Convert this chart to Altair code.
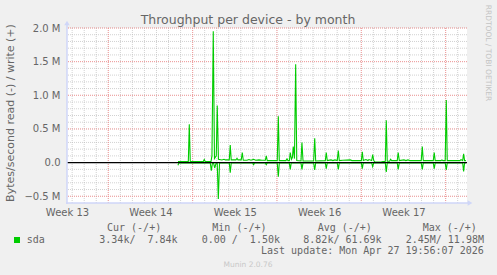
import altair as alt
import pandas as pd

# ---------------- data ----------------
TITLE = "Throughput per device - by month"
Y_TITLE = "Bytes/second read (-) / write (+)"
WEEK_LABELS = ["Week 13", "Week 14", "Week 15", "Week 16", "Week 17"]
WEEK_LABEL_POS = [0.0, 6.93, 13.93, 20.93, 27.93]      # days from start of view
Y_TICKS = [-0.5, 0.0, 0.5, 1.0, 1.5, 2.0]              # M bytes/s

# write (+), in M bytes/second, time in days from start of view
write_t = [9.21, 10.07, 10.15, 10.23, 11.31, 11.39, 11.47, 11.95, 12.03, 12.14,
           12.24, 12.39, 12.47, 12.57, 12.86, 13.03, 13.15, 13.47, 13.55, 13.63,
           14.02, 14.11, 14.19, 14.46, 14.55, 14.63, 14.94, 15.10, 15.27, 15.49,
           15.66, 15.93, 16.18, 16.46, 16.54, 16.62, 17.45, 17.54, 17.62, 18.17,
           18.26, 18.34, 18.46, 18.53, 18.63, 18.71, 18.78, 18.88, 18.98, 19.07,
           19.42, 19.50, 19.59, 20.47, 20.56, 20.64, 21.44, 21.52, 21.60, 21.91,
           22.07, 22.24, 22.43, 22.52, 22.60, 22.90, 23.51, 23.65, 24.43, 24.51,
           24.59, 24.81, 24.98, 25.06, 25.29, 25.37, 25.46, 25.56, 26.06, 26.22,
           26.42, 26.50, 26.58, 26.78, 26.86, 26.94, 27.41, 27.49, 27.58, 27.97,
           28.13, 28.30, 28.46, 29.40, 29.49, 29.57, 30.40, 30.48, 30.56, 31.04,
           31.12, 31.20, 31.39, 31.48, 31.56, 32.61, 32.70, 32.84, 32.92, 33.00,
           33.11]
write_v = [0.015, 0.015, 0.57, 0.015, 0.015, 0.045, 0.015, 0.015, 0.10, 1.95,
           0.06, 0.10, 0.85, 0.05, 0.04, 0.05, 0.04, 0.04, 0.26, 0.04,
           0.04, 0.065, 0.04, 0.04, 0.15, 0.035, 0.035, 0.045, 0.035, 0.05,
           0.035, 0.04, 0.035, 0.035, 0.10, 0.03, 0.03, 0.69, 0.03, 0.03,
           0.055, 0.03, 0.03, 0.15, 0.05, 0.08, 0.24, 0.06, 1.46, 0.03,
           0.025, 0.30, 0.025, 0.025, 0.36, 0.025, 0.03, 0.15, 0.03, 0.04,
           0.03, 0.04, 0.03, 0.18, 0.03, 0.035, 0.04, 0.03, 0.03, 0.16,
           0.03, 0.045, 0.03, 0.045, 0.03, 0.12, 0.03, 0.008, 0.008, 0.015,
           0.02, 0.63, 0.02, 0.02, 0.05, 0.03, 0.03, 0.15, 0.03, 0.04,
           0.03, 0.04, 0.03, 0.03, 0.24, 0.03, 0.03, 0.15, 0.03, 0.03,
           0.04, 0.03, 0.03, 0.93, 0.03, 0.03, 0.045, 0.03, 0.13, 0.03,
           0.03]

# read (-), drawn negative
read_t = [9.21, 9.29, 11.89, 11.98, 12.07, 12.17, 12.26, 12.37, 12.47, 12.56,
          12.66, 13.47, 13.55, 13.63, 15.41, 15.49, 15.57, 16.46, 16.54, 16.62,
          17.45, 17.54, 17.62, 18.45, 18.53, 18.61, 19.42, 19.50, 19.59, 20.47,
          20.56, 20.64, 21.44, 21.52, 21.60, 22.43, 22.52, 22.60, 24.43, 24.51,
          24.59, 25.29, 25.37, 25.46, 26.42, 26.50, 26.58, 27.41, 27.49, 27.58,
          29.40, 29.49, 29.57, 30.40, 30.48, 30.56, 31.39, 31.48, 31.56, 32.84,
          32.92, 33.00, 33.11]
read_v = [-0.04, -0.004, -0.004, -0.12, -0.01, -0.01, -0.08, -0.01, -0.01, -0.54,
          -0.004, -0.004, -0.15, -0.004, -0.004, -0.03, -0.004, -0.004, -0.03, -0.004,
          -0.004, -0.21, -0.004, -0.004, -0.10, -0.004, -0.004, -0.10, -0.004, -0.004,
          -0.11, -0.004, -0.004, -0.09, -0.004, -0.004, -0.10, -0.004, -0.004, -0.09,
          -0.004, -0.004, -0.06, -0.004, -0.004, -0.14, -0.004, -0.004, -0.10, -0.004,
          -0.004, -0.10, -0.004, -0.004, -0.09, -0.004, -0.004, -0.11, -0.004, -0.004,
          -0.13, -0.004, -0.004]

LEGEND_NAME = "sda"
LEGEND_HEADERS = ["Cur (-/+)", "Min (-/+)", "Avg (-/+)", "Max (-/+)"]
LEGEND_VALUES = ["3.34k/  7.84k", "0.00 /  1.50k", "8.82k/ 61.69k", "2.45M/ 11.98M"]
LAST_UPDATE = "Last update: Mon Apr 27 19:56:07 2026"
FOOTER = "Munin 2.0.76"
WATERMARK = "RRDTOOL / TOBI OETIKER"

# ---------------- layout / style ----------------
W, H = 400, 175
GREEN = "#00CC00"
FONT_C = "#666666"
AXIS_C = "#CFD6F8"
SUNDAY0 = 3.427

xscale = alt.Scale(domain=[0, 33.2], nice=False, zero=False)
yscale = alt.Scale(domain=[-0.6, 2.0], nice=False, zero=False)

week_expr = "[" + ",".join("'%s'" % s for s in WEEK_LABELS) + "][indexof([" + \
    ",".join(str(p) for p in WEEK_LABEL_POS) + "], datum.value)]"

xaxis = alt.Axis(values=WEEK_LABEL_POS, labelExpr=week_expr, title=None, grid=False,
                 ticks=False, tickSize=0, domain=False, labelPadding=4,
                 labelFont="DejaVu Sans", labelFontSize=10, labelColor=FONT_C,
                 labelFlush=False, labelOverlap=False)
yaxis = alt.Axis(values=Y_TICKS,
                 labelExpr="datum.value == 0 ? '0.0' : format(datum.value, '.1f') + ' M'",
                 title=None, grid=False, ticks=False, tickSize=0, domain=False,
                 labelPadding=7, labelFont="DejaVu Sans", labelFontSize=10,
                 labelColor=FONT_C, labelOverlap=False)

X = alt.X("t:Q", scale=xscale, axis=xaxis)
Y = alt.Y("v:Q", scale=yscale, axis=yaxis)

day_lines = pd.DataFrame({"t": [round(SUNDAY0 + k, 3) for k in range(-3, 30)]})
week_lines = pd.DataFrame({"t": [round(SUNDAY0 + 7 * k, 3) for k in range(0, 5)]})
minor_h = pd.DataFrame({"v": [round(-0.5 + 0.1 * i, 2) for i in range(26)]})
major_h = pd.DataFrame({"v": [-0.5, 0.5, 1.0, 1.5, 2.0]})

layers = []
layers.append(alt.Chart(day_lines).mark_rule(color="#B8B8B8", opacity=0.65, strokeDash=[1, 1], strokeWidth=1).encode(x=X))
layers.append(alt.Chart(minor_h).mark_rule(color="#B8B8B8", opacity=0.65, strokeDash=[1, 1], strokeWidth=1).encode(y=Y))
layers.append(alt.Chart(week_lines).mark_rule(color="#FF8080", opacity=0.7, strokeDash=[1, 1], strokeWidth=1).encode(x=X))
layers.append(alt.Chart(major_h).mark_rule(color="#FF8080", opacity=0.7, strokeDash=[1, 1], strokeWidth=1).encode(y=Y))

read_df = pd.DataFrame({"t": read_t, "v": read_v})
write_df = pd.DataFrame({"t": write_t, "v": write_v})
layers.append(alt.Chart(read_df).mark_line(color=GREEN, strokeWidth=1.1).encode(x=X, y=Y, order="t:Q"))
layers.append(alt.Chart(write_df).mark_line(color=GREEN, strokeWidth=1.1).encode(x=X, y=Y, order="t:Q"))
layers.append(alt.Chart(pd.DataFrame({"v": [0.0]})).mark_rule(color="#000000", strokeWidth=1.2).encode(y=Y))

one = pd.DataFrame({"k": [0]})
# axis lines with arrows
layers.append(alt.Chart(one).mark_rule(color=AXIS_C, strokeWidth=1.5).encode(
    x=alt.value(0), y=alt.value(-5), y2=alt.value(H + 1)))
layers.append(alt.Chart(one).mark_rule(color=AXIS_C, strokeWidth=1.5).encode(
    x=alt.value(-1), x2=alt.value(W + 3), y=alt.value(H)))
layers.append(alt.Chart(one).mark_point(shape="triangle-up", filled=True, color=AXIS_C, size=30, opacity=1).encode(
    x=alt.value(0), y=alt.value(-5)))
layers.append(alt.Chart(one).mark_point(shape="triangle-right", filled=True, color=AXIS_C, size=30, opacity=1).encode(
    x=alt.value(W + 3), y=alt.value(H)))


def txt(s, x, y, size, font="DejaVu Sans", color=FONT_C, align="left", angle=0, baseline="alphabetic"):
    s = s.replace(" ", "\u00a0")  # keep runs of spaces in the SVG text
    return alt.Chart(one).mark_text(text=s, font=font, fontSize=size, color=color, align=align,
                                    angle=angle, baseline=baseline).encode(
        x=alt.value(x), y=alt.value(y))


OX, OY = 67, 28  # plot origin inside the 497x275 page
layers.append(txt(TITLE, 248 - OX, 23.5 - OY, 12.5, align="center"))
layers.append(txt(Y_TITLE, 11 - OX, 113 - OY, 11, align="center", angle=270, baseline="middle"))
layers.append(txt(WATERMARK, 487.5 - OX, 53 - OY, 7.5, color="#C4C4C4", align="center", angle=90, baseline="middle"))

MONO = "DejaVu Sans Mono"
layers.append(alt.Chart(one).mark_rect(color=GREEN).encode(
    x=alt.value(14 - OX), x2=alt.value(20 - OX), y=alt.value(237 - OY), y2=alt.value(243 - OY)))
layers.append(txt(LEGEND_NAME, 26.7 - OX, 242.7 - OY, 10, font=MONO))
for s, x in zip(LEGEND_HEADERS, [107, 212.3, 317.7, 422.7]):
    layers.append(txt(s, x - OX, 231 - OY, 10, font=MONO))
for s, x in zip(LEGEND_VALUES, [99.3, 201.7, 303.3, 405.7]):
    layers.append(txt(s, x - OX, 242.7 - OY, 10, font=MONO))
layers.append(txt(LAST_UPDATE, 261 - OX, 254 - OY, 10, font=MONO))
layers.append(txt(FOOTER, 248 - OX, 266.5 - OY, 7.5, color="#C8C8C8", align="center"))

chart = alt.layer(*layers).properties(
    width=W, height=H,
    autosize=alt.AutoSizeParams(type="none"),
    padding={"left": OX, "top": OY, "right": 497 - OX - W, "bottom": 275 - OY - H},
    background="#F0F0F0",
).configure_view(stroke=None, fill="white")

chart.save("out.html", embed_options={"renderer": "svg", "actions": False})
